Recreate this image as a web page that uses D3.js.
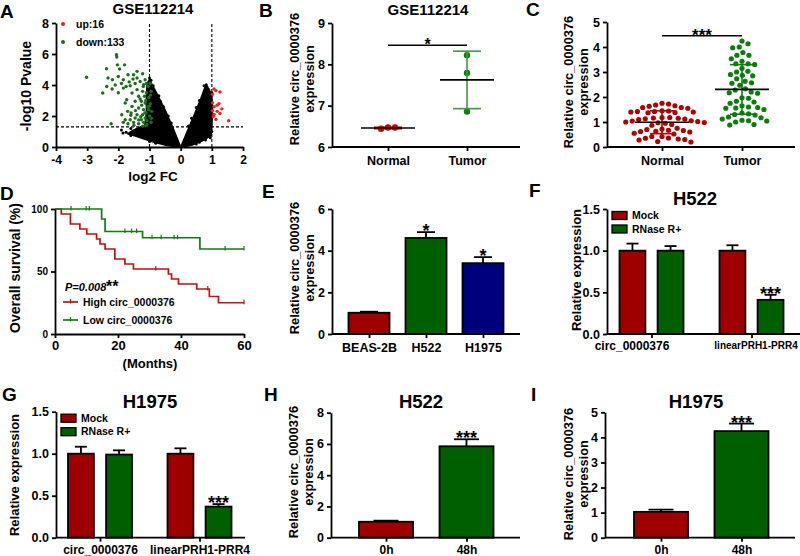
<!DOCTYPE html>
<html>
<head>
<meta charset="utf-8">
<script src="https://cdn.jsdelivr.net/npm/d3@7"></script>
<style>
body { margin: 0; background: #fff; }
svg { display: block; }
</style>
</head>
<body>
<script>
// ---------- data ----------
// A: volcano (GSE112214)
var volFcCut = [-1, 1];
var volPCut = 1.3;
var volLeftArm = [[0,0],[-0.25,1.25],[-0.5,2.4],[-0.75,3.4],[-0.92,4.05],[-1.0,4.35],[-1.08,4.1],[-1.1,3.2],[-1.1,2.2],[-1.15,1.4],
    [-1.35,1.25],[-1.55,1.05],[-1.7,0.85],[-1.45,0.7],[-1.15,0.5],[-0.85,0.3],[-0.5,0.12],[-0.2,0.03]];
var volRightArm = [[0,0],[0.2,0.95],[0.45,2.15],[0.65,3.15],[0.78,3.85],[0.85,3.95],[0.95,3.55],[1.0,3.3],[1.02,2.4],[1.0,1.3],
    [0.98,0.75],[0.7,0.4],[0.4,0.15],[0.15,0.03]];
var volOther = [[-1.9,1.1],[-1.75,0.95],[-1.6,1.2],[-1.5,0.85],[-1.4,1.15],[-1.3,0.95],[-1.25,0.7],[-1.2,1.1],[-1.05,0.6],
    [-0.95,0.45],[-1.6,0.75],[-1.85,0.9],[-1.0,0.35],[-0.8,0.25],[-0.65,2.95],[-0.55,2.6],[-0.4,2.0],[-0.3,1.55],[-0.88,3.95],
    [-0.95,4.3],[-1.0,4.45],[-0.7,3.3],[0.75,3.95],[0.82,4.02],[0.6,3.0],[0.5,2.55],[0.35,1.85],[0.25,1.35],[0.9,3.7],
    [1.0,3.5],[0.95,0.6],[0.8,0.45],[0.6,0.3],[1.0,1.0],[0.5,0.2]];
var volDown = [[-2.06,5.95],[-2.05,5.8],[-2.03,5.3],[-1.8,5.3],[-2.38,5.05],[-3.02,4.5],[-1.96,5.03],[-1.69,4.66],[-1.4,4.88],
    [-1.22,4.73],[-1.51,4.66],[-1.53,4.38],[-2.19,4.34],[-2.0,4.55],[-2.33,4.45],[-1.84,4.34],[-2.37,3.9],[-2.5,3.48],
    [-2.2,3.74],[-2.0,3.5],[-1.84,3.8],[-1.62,3.95],[-1.46,4.1],[-1.3,4.23],[-1.14,4.34],[-1.19,4.02],[-1.4,3.7],[-1.56,3.48],
    [-1.22,3.59],[-1.35,3.27],[-1.16,3.27],[-1.73,3.05],[-1.78,2.84],[-1.46,2.95],[-1.26,2.95],[-1.14,2.84],[-1.56,2.62],
    [-1.35,2.52],[-1.19,2.41],[-1.89,2.08],[-1.59,2.19],[-1.4,2.08],[-1.22,2.08],[-1.11,2.19],[-1.78,1.76],[-1.62,1.76],
    [-1.46,1.87],[-1.26,1.76],[-1.14,1.87],[-2.23,1.5],[-1.84,1.59],[-1.69,1.5],[-1.51,1.59],[-1.35,1.5],[-1.19,1.59],
    [-1.08,1.44],[-1.05,3.9],[-0.98,4.1],[-0.95,3.6],[-1.02,3.2],[-0.97,2.8],[-1.05,2.6],[-0.93,2.3],[-1.0,2.0],[-1.08,1.7],
    [-0.95,1.6],[-1.1,3.5],[-1.12,3.0],[-1.03,2.4],[-1.15,2.2],[-1.25,2.7],[-1.3,3.1],[-1.2,3.9],[-1.1,4.1],[-1.28,1.95],
    [-1.45,2.35],[-1.6,2.05],[-1.7,2.3],[-1.35,1.75],[-1.5,1.4],[-1.12,1.38],[-1.22,1.35],[-1.4,4.45],[-1.65,4.2],
    [-1.75,3.9],[-1.9,4.1],[-2.1,4.0],[-0.97,3.35],[-1.0,2.65],[-0.94,1.85]];
var volUp = [[1.07,3.74],[1.13,3.64],[1.26,3.55],[1.02,3.4],[1.02,2.85],[1.23,2.8],[1.17,2.7],[1.07,2.6],[1.32,2.46],
    [1.02,2.35],[1.17,2.3],[1.07,2.1],[1.26,2.16],[1.13,1.78],[1.54,1.7],[1.05,1.96]];

// B: GSE112214 expression
var groupsNT = ["Normal", "Tumor"];
var bNormal = [6.47, 6.44, 6.47];
var bTumor = [8.22, 7.79, 6.86];

// C: tissue expression
var cNormal = [1.72,1.68,1.63,1.58,1.55,1.58,1.65,1.75,1.44,1.42,1.40,1.38,1.37,1.40,1.42,1.45,1.18,1.16,1.13,1.10,1.12,
    1.15,1.18,1.05,1.02,0.98,0.95,0.97,1.0,1.04,0.9,0.87,0.75,0.7,0.66,0.62,0.6,0.63,0.67,0.72,0.55,0.52,0.42,0.36,0.32,
    0.28,0.3,0.35,0.42,0.22,0.2];
var cTumor = [4.24,4.13,4.0,3.97,3.78,3.67,3.67,3.53,3.43,3.33,3.33,3.3,3.15,3.03,3.0,2.9,2.87,2.85,2.73,2.63,2.57,2.55,
    2.47,2.33,2.28,2.2,2.17,2.15,1.97,1.95,1.83,1.8,1.75,1.65,1.6,1.58,1.56,1.55,1.5,1.36,1.33,1.3,1.28,1.2,1.17,1.12,1.07,
    1.05,1.04,1.0,0.9,0.88];

// D: survival
var followUpEnd = 60;
var highTimes = [0,2,4.9,7.9,10.1,13.2,14.3,15.9,19.0,22.2,24.9,36.0,37.0,39.2,45.0,49.0,51.9];
var highSurv = [100,96,88,84,80,76,72,68,60,56,52,48,44,40,36,30,25];
var highCensor = [32, 48.5, 60];
var lowTimes = [0,14.8,15.9,27.8,46.0];
var lowSurv = [100,92,82,77,68];
var lowCensor = [5.1,9.9,10.9,22.2,24.3,25.9,30.8,33.7,37.8,38.9,54.0,60];

// E: cell lines
var eCells = ["BEAS-2B", "H522", "H1975"];
var eMean = [1.02, 4.61, 3.40];
var eErr = [0.05, 0.28, 0.29];
var eStars = ["", "*", "*"];

// F, G: RNase R
var rnaseGroups = ["circ_0000376", "linearPRH1-PRR4"];
var rnaseSeries = ["Mock", "RNase R+"];
var fMock = [1.0, 1.0], fMockErr = [0.085, 0.065];
var fRnase = [1.0, 0.41], fRnaseErr = [0.055, 0.06];
var gMock = [1.0, 1.0], gMockErr = [0.083, 0.064];
var gRnase = [0.99, 0.37], gRnaseErr = [0.05, 0.03];
var rnaseStars = [["", ""], ["", "***"]];

// H, I: actinomycin time course
var hours = ["0h", "48h"];
var hMean = [1.02, 5.85], hErr = [0.07, 0.45];
var iMean = [1.03, 4.25], iErr = [0.09, 0.30];
var timeStars = ["", "***"];

// ---------- drawing ----------
var FONT = '"Liberation Sans", Arial, Helvetica, sans-serif';
var RED = "#9e0000", GREEN = "#005f00", BLUE = "#00007e";
var SW = 1.8;

var svg = d3.select("body").append("svg")
    .attr("width", 800)
    .attr("height", 556)
    .attr("font-family", FONT)
    .attr("font-weight", "bold");

function styleAxis(a, fs) {
    a.attr("font-family", FONT).attr("font-size", fs).attr("font-weight", "bold");
    a.select(".domain").attr("stroke", "#000").attr("stroke-width", SW);
    a.selectAll(".tick line").attr("stroke", "#000").attr("stroke-width", SW);
    a.selectAll(".tick text").attr("fill", "#000");
}

function yAxis(g, scale, x, ticks, fmt, fs) {
    var a = g.append("g")
        .attr("transform", "translate(" + x + ",0)")
        .call(d3.axisLeft(scale).tickValues(ticks).tickSize(4).tickSizeOuter(0).tickPadding(3)
            .tickFormat(fmt || function(d) { return String(d); }));
    styleAxis(a, fs || 12.5);
    return a;
}

function catAxis(g, scale, y, x0, x1, fs, pad) {
    g.append("line").attr("x1", x0).attr("x2", x1).attr("y1", y).attr("y2", y)
        .attr("stroke", "#000").attr("stroke-width", SW);
    var a = g.append("g")
        .attr("transform", "translate(0," + y + ")")
        .call(d3.axisBottom(scale).tickSize(4).tickSizeOuter(0).tickPadding(pad));
    a.select(".domain").remove();
    styleAxis(a, fs || 12);
    return a;
}

function yLabel(lines, x, y, fs) {
    lines.forEach(function(t, i) {
        svg.append("text")
            .attr("transform", "translate(" + (x + i * 15) + "," + y + ") rotate(-90)")
            .attr("text-anchor", "middle")
            .attr("font-size", fs)
            .text(t);
    });
}

function label(t, x, y, fs, anchor) {
    return svg.append("text").attr("x", x).attr("y", y)
        .attr("font-size", fs).attr("text-anchor", anchor || "middle").text(t);
}

function swarm(vals, y, cx, d) {
    var pts = vals.map(function(v) { return {v: v, y: y(v)}; })
                  .sort(function(a, b) { return a.y - b.y; });
    var placed = [];
    pts.forEach(function(p) {
        var cands = [0];
        placed.forEach(function(q) {
            var dy = Math.abs(q.y - p.y);
            if (dy < d) {
                var dx = Math.sqrt(d * d - dy * dy);
                cands.push(q.dx + dx, q.dx - dx);
            }
        });
        cands.sort(function(a, b) { return Math.abs(a) - Math.abs(b); });
        for (var i = 0; i < cands.length; i++) {
            var c = cands[i];
            var ok = placed.every(function(q) {
                var dx = q.dx - c, dy = q.y - p.y;
                return dx * dx + dy * dy >= d * d - 0.01;
            });
            if (ok) { p.dx = c; break; }
        }
        placed.push(p);
    });
    return placed.map(function(p) { return {v: p.v, x: cx + p.dx, y: p.y}; });
}

function dotPlot(g, groups, x, y, opts) {
    groups.forEach(function(gr) {
        var cx = x(gr.name);
        var pts = swarm(gr.vals, y, cx, opts.dist);
        g.selectAll(null).data(pts).enter().append("circle")
            .attr("cx", function(d) { return d.x; })
            .attr("cy", function(d) { return d.y; })
            .attr("r", opts.r)
            .attr("fill", gr.color);
        var m = d3.mean(gr.vals), sd = d3.deviation(gr.vals);
        g.append("line").attr("x1", cx).attr("x2", cx).attr("y1", y(m - sd)).attr("y2", y(m + sd))
            .attr("stroke", gr.errColor).attr("stroke-width", 1.6);
        [m - sd, m + sd].forEach(function(v) {
            g.append("line").attr("x1", cx - opts.cap).attr("x2", cx + opts.cap).attr("y1", y(v)).attr("y2", y(v))
                .attr("stroke", gr.errColor).attr("stroke-width", 1.6);
        });
        g.append("line").attr("x1", cx - opts.meanW).attr("x2", cx + opts.meanW).attr("y1", y(m)).attr("y2", y(m))
            .attr("stroke", "#000").attr("stroke-width", 1.7);
    });
}

function bars(g, items, y, capW) {
    items.forEach(function(b) {
        g.append("rect")
            .attr("x", b.x - b.w / 2).attr("width", b.w)
            .attr("y", y(b.v)).attr("height", y(0) - y(b.v))
            .attr("fill", b.color).attr("stroke", "#000").attr("stroke-width", SW);
        var top = y(b.v + b.e);
        g.append("line").attr("x1", b.x).attr("x2", b.x).attr("y1", y(b.v)).attr("y2", top)
            .attr("stroke", "#000").attr("stroke-width", SW);
        g.append("line").attr("x1", b.x - capW / 2).attr("x2", b.x + capW / 2).attr("y1", top).attr("y2", top)
            .attr("stroke", "#000").attr("stroke-width", SW);
        if (b.star) {
            g.append("text").attr("x", b.x).attr("y", top + 5)
                .attr("text-anchor", "middle").attr("font-size", 18).text(b.star);
        }
    });
}

function sigBar(g, x1, x2, yy, stars, fs) {
    g.append("line").attr("x1", x1).attr("x2", x2).attr("y1", yy).attr("y2", yy)
        .attr("stroke", "#000").attr("stroke-width", 1.5);
    g.append("text").attr("x", (x1 + x2) / 2).attr("y", yy + 5).attr("text-anchor", "middle")
        .attr("font-size", fs).text(stars);
}

// ---- A: volcano ----
(function() {
    var g = svg.append("g");
    var x = d3.scaleLinear().domain([-4, 2]).range([56, 243]);
    var y = d3.scaleLinear().domain([0, 8]).range([147, 23]);

    var arm = d3.line().x(function(d) { return x(d[0]); }).y(function(d) { return y(d[1]); });
    g.selectAll("path.arm").data([volLeftArm, volRightArm]).enter().append("path")
        .attr("class", "arm")
        .attr("d", function(d) { return arm(d) + "Z"; })
        .attr("fill", "#000").attr("stroke", "#000").attr("stroke-width", 1.5).attr("stroke-linejoin", "round");

    volFcCut.forEach(function(v) {
        g.append("line").attr("x1", x(v)).attr("x2", x(v)).attr("y1", y(0)).attr("y2", y(8))
            .attr("stroke", "#000").attr("stroke-width", 1.1).attr("stroke-dasharray", "3,2");
    });
    g.append("line").attr("x1", x(-4)).attr("x2", x(2)).attr("y1", y(volPCut)).attr("y2", y(volPCut))
        .attr("stroke", "#000").attr("stroke-width", 1.1).attr("stroke-dasharray", "3,2");

    var sets = [[volOther, "#000", 1.5], [volDown, "#1c6e1c", 1.7], [volUp, "#ff1a1a", 1.7]];
    sets.forEach(function(s) {
        g.selectAll(null).data(s[0]).enter().append("circle")
            .attr("cx", function(d) { return x(d[0]); })
            .attr("cy", function(d) { return y(d[1]); })
            .attr("r", s[2]).attr("fill", s[1]);
    });

    yAxis(g, y, 56, [0, 2, 4, 6, 8], null, 12.5);
    var ax = g.append("g").attr("transform", "translate(0,147)")
        .call(d3.axisBottom(x).tickValues([-4, -3, -2, -1, 0, 1, 2]).tickSize(4).tickSizeOuter(0).tickPadding(4)
            .tickFormat(function(d) { return String(d); }));
    styleAxis(ax, 12);

    g.append("circle").attr("cx", 63).attr("cy", 24).attr("r", 2).attr("fill", "#ff1a1a");
    g.append("circle").attr("cx", 63).attr("cy", 42).attr("r", 2).attr("fill", "#1c6e1c");
    label("up:" + volUp.length, 76, 27.5, 10.5, "start");
    label("down:133", 76, 45.5, 10.5, "start");

    label("GSE112214", 153, 14, 15);
    label("log2 FC", 153, 181, 13.5);
    yLabel(["-log10 Pvalue"], 31, 86, 14);
})();

// ---- B ----
(function() {
    var g = svg.append("g");
    var x = d3.scalePoint().domain(groupsNT).range([388, 467]);
    var y = d3.scaleLinear().domain([6, 9]).range([147, 23]);
    dotPlot(g, [
        {name: "Normal", vals: bNormal, color: "#c40000", errColor: "#c40000"},
        {name: "Tumor", vals: bTumor, color: "#0e7e0e", errColor: "#3f9a3f"}
    ], x, y, {r: 3.2, dist: 7, cap: 14, meanW: 27});
    yAxis(g, y, 332, [6, 7, 8, 9], null, 12.5);
    catAxis(g, x, 147, 332, 520, 12.5, 5);
    sigBar(g, x("Normal"), x("Tumor"), y(8.46), "*", 16);
    label("GSE112214", 428, 15, 15);
    yLabel(["Relative circ_0000376", "expression"], 299, 79, 12.8);
})();

// ---- C ----
(function() {
    var g = svg.append("g");
    var x = d3.scalePoint().domain(groupsNT).range([662, 742]);
    var y = d3.scaleLinear().domain([0, 5]).range([147, 22]);
    dotPlot(g, [
        {name: "Normal", vals: cNormal, color: "#b00000", errColor: "#b00000"},
        {name: "Tumor", vals: cTumor, color: "#0b7d0b", errColor: "#0b7d0b"}
    ], x, y, {r: 2.6, dist: 6.6, cap: 12, meanW: 27});
    yAxis(g, y, 607, [0, 1, 2, 3, 4, 5], null, 12.5);
    catAxis(g, x, 147, 607, 795, 12.5, 5);
    sigBar(g, x("Normal"), x("Tumor"), y(4.45), "***", 17);
    yLabel(["Relative circ_0000376", "expression"], 573, 82, 12.8);
})();

// ---- D: survival ----
(function() {
    var g = svg.append("g");
    var x = d3.scaleLinear().domain([0, 60]).range([55, 244]);
    var y = d3.scaleLinear().domain([0, 100]).range([334, 209]);
    var step = d3.line().curve(d3.curveStepAfter)
        .x(function(d) { return x(d[0]); }).y(function(d) { return y(d[1]); });
    function survAt(times, surv, t) {
        var i = d3.bisectRight(times, t) - 1;
        return surv[Math.max(i, 0)];
    }
    var curves = [
        {times: highTimes, surv: highSurv, cens: highCensor, color: "#c41010"},
        {times: lowTimes, surv: lowSurv, cens: lowCensor, color: "#137a13"}
    ];
    curves.forEach(function(c) {
        var pts = c.times.map(function(t, i) { return [t, c.surv[i]]; });
        pts.push([followUpEnd, c.surv[c.surv.length - 1]]);
        g.append("path").attr("d", step(pts)).attr("fill", "none")
            .attr("stroke", c.color).attr("stroke-width", 1.7);
        c.cens.forEach(function(t) {
            var yy = y(survAt(c.times, c.surv, t));
            g.append("line").attr("x1", x(t)).attr("x2", x(t)).attr("y1", yy - 3).attr("y2", yy + 1.5)
                .attr("stroke", c.color).attr("stroke-width", 1.2);
        });
    });
    yAxis(g, y, 55, [0, 50, 100], null, 10);
    var ax = g.append("g").attr("transform", "translate(0,334)")
        .call(d3.axisBottom(x).tickValues([0, 20, 40, 60]).tickSize(4).tickSizeOuter(0).tickPadding(3));
    styleAxis(ax, 13);

    g.append("text").attr("x", 65).attr("y", 291).attr("font-size", 11).attr("font-style", "italic").text("P=0.008");
    g.append("text").attr("x", 106).attr("y", 292).attr("font-size", 16).text("**");
    [["High circ_0000376", curves[0].color, 302], ["Low circ_0000376", curves[1].color, 320]].forEach(function(l) {
        g.append("line").attr("x1", 63).attr("x2", 78).attr("y1", l[2]).attr("y2", l[2])
            .attr("stroke", l[1]).attr("stroke-width", 1.7);
        g.append("line").attr("x1", 70.5).attr("x2", 70.5).attr("y1", l[2] - 3).attr("y2", l[2] + 1.5)
            .attr("stroke", l[1]).attr("stroke-width", 1.2);
        g.append("text").attr("x", 83).attr("y", l[2] + 3.8).attr("font-size", 10.5).text(l[0]);
    });
    label("(Months)", 150, 368, 13);
    yLabel(["Overall survival (%)"], 20, 268, 14);
})();

// ---- E ----
(function() {
    var g = svg.append("g");
    var x = d3.scalePoint().domain(eCells).range([369, 483]);
    var y = d3.scaleLinear().domain([0, 6]).range([334, 209]);
    var cols = [RED, GREEN, BLUE];
    bars(g, eCells.map(function(c, i) {
        return {x: x(c), w: 41, v: eMean[i], e: eErr[i], color: cols[i], star: eStars[i]};
    }), y, 18);
    yAxis(g, y, 332, [0, 2, 4, 6], null, 12.5);
    catAxis(g, x, 334, 332, 520, 12.5, 5.5);
    yLabel(["Relative circ_0000376", "expression"], 299, 268, 12.8);
})();

// ---- F, G ----
function rnasePanel(cx0, cx1, axisX, axisEnd, y0, y1, mock, mockErr, rnase, rnaseErr, labelShift, labelSize) {
    var g = svg.append("g");
    var x0 = d3.scalePoint().domain(rnaseGroups).range([cx0, cx1]);
    var x1 = d3.scaleBand().domain(rnaseSeries).range([-32, 32]).paddingInner(0.32);
    var y = d3.scaleLinear().domain([0, 1.5]).range([y0, y1]);
    var items = [];
    rnaseGroups.forEach(function(gr, i) {
        items.push({x: x0(gr) + x1("Mock") + x1.bandwidth() / 2, w: x1.bandwidth(), v: mock[i], e: mockErr[i],
                    color: RED, star: rnaseStars[i][0]});
        items.push({x: x0(gr) + x1("RNase R+") + x1.bandwidth() / 2, w: x1.bandwidth(), v: rnase[i], e: rnaseErr[i],
                    color: GREEN, star: rnaseStars[i][1]});
    });
    bars(g, items, y, 12);
    yAxis(g, y, axisX, [0, 0.5, 1, 1.5], d3.format(".1f"), 12.5);
    var ax = catAxis(g, x0, y0, axisX, axisEnd, 12, 3.5);
    ax.selectAll(".tick text")
        .attr("dx", function(d, i) { return labelShift[i]; })
        .attr("font-size", function(d, i) { return labelSize[i]; });
    // legend
    rnaseSeries.forEach(function(s, i) {
        var ly = y1 + 2.5 + i * 13.5;
        g.append("rect").attr("x", axisX + 5).attr("y", ly).attr("width", 15).attr("height", 8)
            .attr("fill", i ? GREEN : RED).attr("stroke", "#000").attr("stroke-width", 1.3);
        g.append("text").attr("x", axisX + 25).attr("y", ly + 7.5).attr("font-size", 10.5).text(s);
    });
}
rnasePanel(651.5, 751.5, 607, 800, 334, 209, fMock, fMockErr, fRnase, fRnaseErr, [-20, 4], [12, 10]);
label("H522", 695, 205, 18.5);
yLabel(["Relative expression"], 581, 270, 13);

rnasePanel(100, 199.5, 56, 245, 537.7, 411.7, gMock, gMockErr, gRnase, gRnaseErr, [0, 0], [12, 12]);
label("H1975", 150, 408, 18.5);
yLabel(["Relative expression"], 19, 475, 13);

// ---- H, I ----
function timePanel(cx0, cx1, axisX, axisEnd, yMax, y1, mean, err) {
    var g = svg.append("g");
    var x = d3.scalePoint().domain(hours).range([cx0, cx1]);
    var y = d3.scaleLinear().domain([0, yMax]).range([537.7, y1]);
    bars(g, hours.map(function(h, i) {
        return {x: x(h), w: 54, v: mean[i], e: err[i], color: i ? GREEN : RED, star: timeStars[i]};
    }), y, 25);
    yAxis(g, y, axisX, d3.range(0, yMax + 1, yMax > 5 ? 2 : 1), null, 12.5);
    catAxis(g, x, 537.7, axisX, axisEnd, 12, 3.5);
}
timePanel(386, 466.5, 331, 520, 8, 412.7, hMean, hErr);
label("H522", 421, 408, 18.5);
yLabel(["Relative circ_0000376", "expression"], 298, 472, 12.8);

timePanel(661, 741.5, 605, 795, 5, 412.3, iMean, iErr);
label("H1975", 696, 408, 18.5);
yLabel(["Relative circ_0000376", "expression"], 573, 474, 12.8);

// ---- panel letters ----
[["A", 0, 18], ["B", 259, 17], ["C", 526, 15.5], ["D", 0, 200], ["E", 262, 198], ["F", 529, 197],
 ["G", 2, 401], ["H", 264, 401], ["I", 531, 401]].forEach(function(p) {
    label(p[0], p[1], p[2], 19, "start");
});
</script>
</body>
</html>
